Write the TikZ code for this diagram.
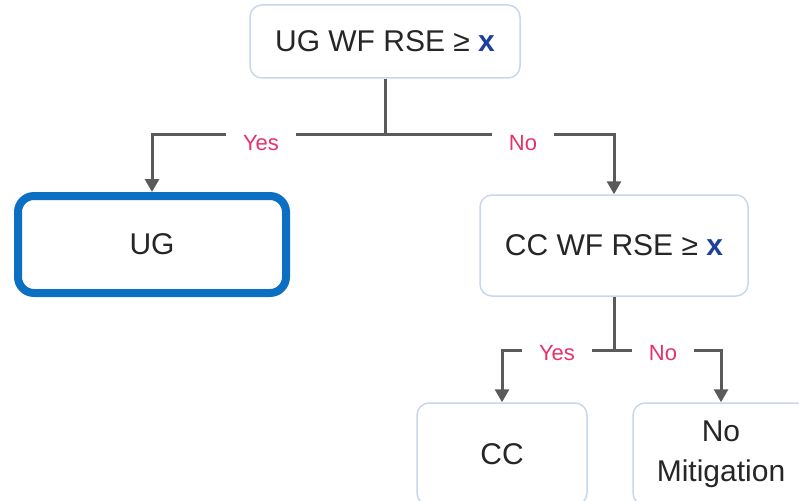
\documentclass[tikz,border=0pt]{standalone}
\usepackage{fontspec}
\setmainfont{Liberation Sans}
\usetikzlibrary{arrows.meta}
\definecolor{boxline}{HTML}{C9D6EE}
\definecolor{ugblue}{HTML}{0B6FC3}
\definecolor{connc}{HTML}{5A5A5A}
\definecolor{labc}{HTML}{E5336A}
\definecolor{xblue}{HTML}{1D3F9E}
\begin{document}
\begin{tikzpicture}[x=1pt,y=-1pt,
  box/.style={draw=boxline, line width=1.5pt, rounded corners=12pt, fill=white,
    font=\fontsize{30}{40}\selectfont, text=black!85, align=center, inner sep=0pt},
  ugbox/.style={box, draw=ugblue, line width=8pt, rounded corners=16pt},
  conn/.style={draw=connc, line width=3pt},
  arr/.style={conn, -{Triangle[width=14pt,length=13pt]}},
  lbl/.style={fill=white, text=labc, font=\fontsize{22}{26}\selectfont, inner xsep=17pt, inner ysep=6pt}]
\useasboundingbox (0,0) rectangle (799,500);
\clip (0,0) rectangle (799,500);
\fill[white] (0,0) rectangle (799,500);
% nodes
\node[box, minimum width=270pt, minimum height=73pt] (top) at (385,41.5) {UG WF RSE ≥ \textcolor{xblue}{\textbf{x}}};
\node[ugbox, minimum width=268pt, minimum height=97pt] (ug) at (152,244.5) {UG};
\node[box, minimum width=268pt, minimum height=101pt] (ccwf) at (614,245.5) {CC WF RSE ≥ \textcolor{xblue}{\textbf{x}}};
\node[box, minimum width=170pt, minimum height=102pt] (cc) at (502,454) {CC};
\node[box, minimum width=176pt, minimum height=102pt] (nm) at (721,454) {No\\Mitigation};
% connectors
\coordinate (j1) at (385,134);
\draw[conn] (top.south) -- (j1);
\draw[arr] (j1) -| (ug.north);
\draw[arr] (j1) -| (ccwf.north);
\node[lbl] (y1) at (261,143) {Yes};
\node[lbl] (n1) at (523,143) {No};
\coordinate (j2) at (614,350);
\draw[conn] (ccwf.south) -- (j2);
\draw[arr] (j2) -| (cc.north);
\draw[arr] (j2) -| (nm.north);
\node[lbl] (y2) at (557,353) {Yes};
\node[lbl] (n2) at (663,353) {No};
\end{tikzpicture}
\end{document}
